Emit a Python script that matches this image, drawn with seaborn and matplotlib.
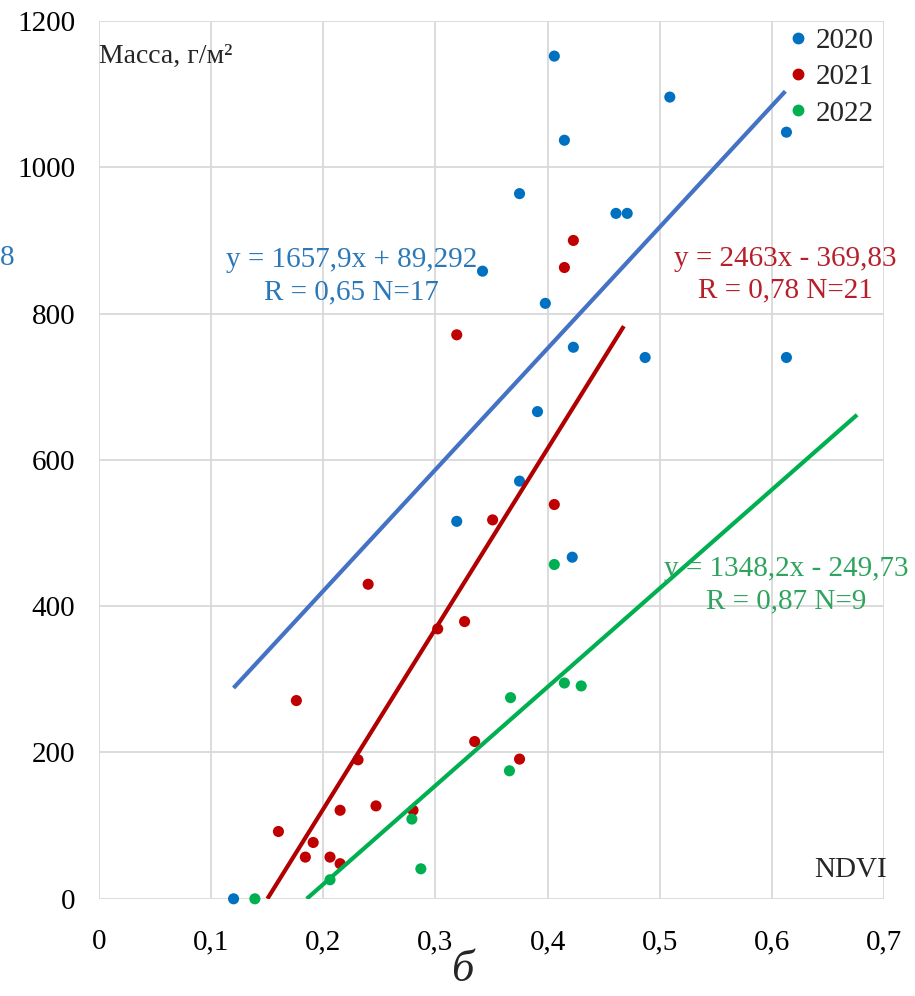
import matplotlib
matplotlib.use("Agg")
import matplotlib.pyplot as plt
from matplotlib.lines import Line2D
import numpy as np
import pandas as pd
import seaborn as sns

# --- data -----------------------------------------------------------------
years = ["2020", "2021", "2022"]

ndvi_2020 = [0.120, 0.406, 0.509, 0.415, 0.613, 0.375, 0.461, 0.471, 0.342,
             0.398, 0.423, 0.487, 0.613, 0.391, 0.375, 0.319, 0.422]
mass_2020 = [0, 1152, 1096, 1037, 1048, 964, 937, 937, 858,
             814, 754, 740, 740, 666, 571, 516, 467]

ndvi_2021 = [0.423, 0.415, 0.319, 0.406, 0.351, 0.240, 0.326, 0.302, 0.176,
             0.231, 0.335, 0.375, 0.215, 0.247, 0.280, 0.160, 0.191, 0.184,
             0.206, 0.215]
mass_2021 = [900, 863, 771, 539, 518, 430, 379, 369, 271,
             190, 215, 191, 121, 127, 121, 92, 77, 57,
             57, 48]

ndvi_2022 = [0.139, 0.206, 0.287, 0.279, 0.406, 0.415, 0.430, 0.367, 0.366]
mass_2022 = [0, 26, 41, 109, 457, 295, 291, 275, 175]

# linear trends: slope, intercept and the NDVI span each trend line covers
trend_slope = [1657.9, 2463.0, 1348.2]
trend_intercept = [89.292, -369.83, -249.73]
trend_x_from = [0.120, 0.1502, 0.1852]
trend_x_to = [0.612, 0.468, 0.676]

trend_labels = ["y = 1657,9x + 89,292\nR = 0,65 N=17",
                "y = 2463x - 369,83\nR = 0,78 N=21",
                "y = 1348,2x - 249,73\nR = 0,87 N=9"]

x_ticks = [0, 0.1, 0.2, 0.3, 0.4, 0.5, 0.6, 0.7]
x_tick_labels = ["0", "0,1", "0,2", "0,3", "0,4", "0,5", "0,6", "0,7"]
y_ticks = [0, 200, 400, 600, 800, 1000, 1200]

# --- styling ---------------------------------------------------------------
sns.set_style("white")
plt.rcParams["font.family"] = ["Liberation Serif", "DejaVu Serif"]

point_colors = ["#0070C0", "#C00000", "#00B050"]
line_colors = ["#4472C4", "#B00000", "#00B050"]
text_colors = ["#2B78B8", "#B5202A", "#2EA45E"]

df = pd.DataFrame({
    "NDVI": ndvi_2020 + ndvi_2021 + ndvi_2022,
    "mass": mass_2020 + mass_2021 + mass_2022,
    "year": (["2020"] * len(ndvi_2020) + ["2021"] * len(ndvi_2021)
             + ["2022"] * len(ndvi_2022)),
})

fig = plt.figure(figsize=(9.15, 9.96), dpi=100)
ax = fig.add_axes([99 / 915, (996 - 898.8) / 996, (884 - 99) / 915, (898.8 - 21) / 996])

sns.scatterplot(data=df, x="NDVI", y="mass", hue="year", hue_order=years,
                palette=point_colors, s=64, linewidth=0, legend=False,
                ax=ax, zorder=3, clip_on=False)

for k in range(3):
    xs = np.array([trend_x_from[k], trend_x_to[k]])
    ys = trend_slope[k] * xs + trend_intercept[k]
    ax.plot(xs, ys, color=line_colors[k], lw=3.0, zorder=4,
            solid_capstyle="butt")

ax.set_xlim(0, 0.7)
ax.set_ylim(0, 1200)
ax.set_xticks(x_ticks)
ax.set_xticklabels(x_tick_labels)
ax.set_yticks(y_ticks)
ax.set_xlabel("")
ax.set_ylabel("")
ax.tick_params(axis="both", length=0, labelsize=21, colors="black")
ax.tick_params(axis="x", pad=22)
ax.tick_params(axis="y", pad=17)
ax.grid(True, color="#D9D9D9", lw=1.3)
ax.set_axisbelow(True)
for side in ax.spines.values():
    side.set_visible(False)

# regression annotations
ax.text(0.225, 851, trend_labels[0], color=text_colors[0], fontsize=21,
        ha="center", va="center", linespacing=1.3, zorder=5)
ax.text(0.612, 853, trend_labels[1], color=text_colors[1], fontsize=21,
        ha="center", va="center", linespacing=1.3, zorder=5, clip_on=False)
ax.text(0.6125, 429, trend_labels[2], color=text_colors[2], fontsize=21,
        ha="center", va="center", linespacing=1.3, zorder=5, clip_on=False)

# axis captions inside the plot area
ax.text(0.0, 1152, "Масса, г/м²", fontsize=20, ha="left", va="center")
ax.text(0.703, 40, "NDVI", fontsize=21, ha="right", va="center")

# legend
handles = [Line2D([], [], marker="o", linestyle="", color=c, markersize=7.5)
           for c in point_colors]
ax.legend(handles, years, loc="upper left", bbox_to_anchor=(0.881, 0.992),
          frameon=False, fontsize=21, handlelength=0.5, handletextpad=0.35,
          labelspacing=0.33, borderpad=0.0, borderaxespad=0.0)

# panel letter
fig.text(462 / 915, 1 - 970 / 996, "б", fontsize=32, style="italic",
         ha="center", va="center")
fig.text(0.0, 1 - 258 / 996, "8", fontsize=21, color=text_colors[0],
         ha="left", va="center")

fig.savefig("out.png", dpi=100)
